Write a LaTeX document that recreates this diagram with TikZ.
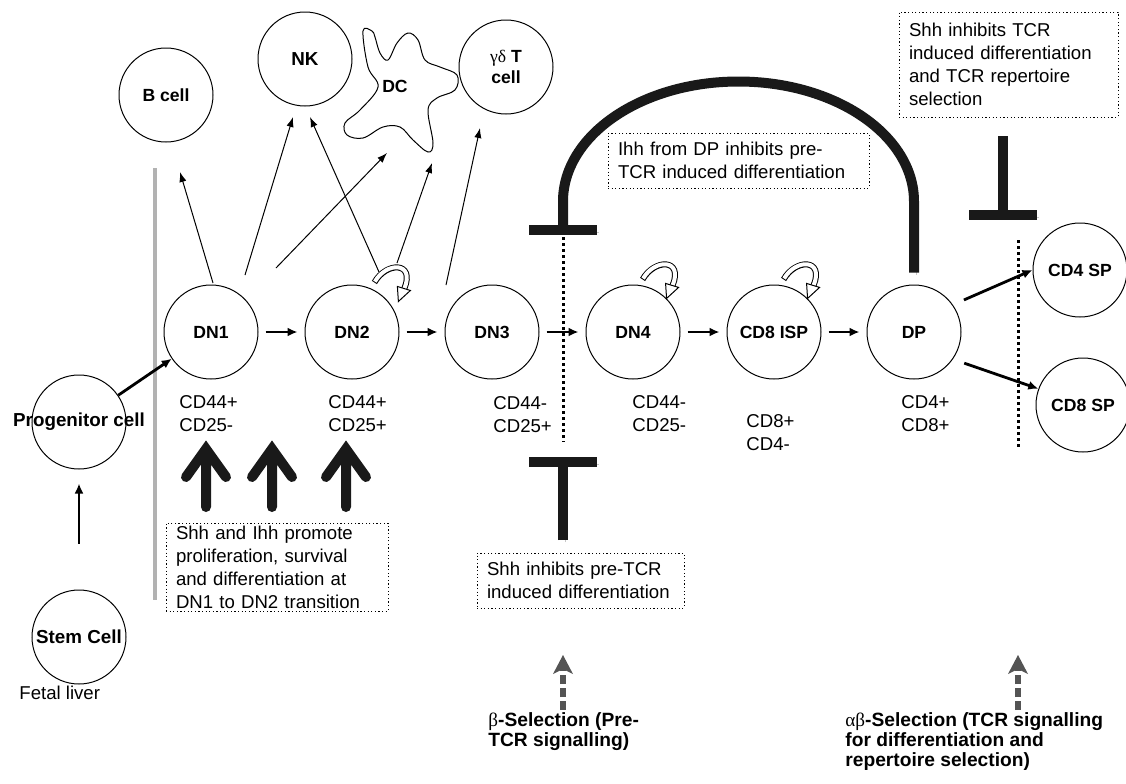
\documentclass[tikz,border=0pt]{standalone}
\usepackage{fontspec}
\setmainfont{Liberation Sans}
\newfontfamily\greekfont{Liberation Serif}
\usetikzlibrary{arrows.meta, positioning}

\newcommand\notesize{\fontsize{9.3pt}{11.5pt}\selectfont}
\newcommand\cellsize{\fontsize{8.8pt}{10.5pt}\selectfont\bfseries}
\newcommand\bigcellsize{\fontsize{9.4pt}{10.5pt}\selectfont\bfseries}
\newcommand\selsize{\fontsize{9.6pt}{10pt}\selectfont\bfseries}
\newcommand\grk[1]{{\greekfont\mdseries #1}}

\tikzset{
  cell/.style={circle, draw, line width=0.5pt, minimum size=47pt, inner sep=0pt, font=\cellsize, align=center},
  flow/.style={-{Latex[length=5pt,width=4.5pt]}, line width=1.4pt},
  thinflow/.style={-{Latex[length=5pt,width=3.6pt]}, line width=0.5pt},
  note/.style={draw, line width=0.5pt, dash pattern=on 0.6pt off 1.2pt, align=left, inner xsep=5pt, inner ysep=0pt, font=\notesize},
  marker/.style={font=\notesize, align=left, anchor=west, inner sep=0pt},
  sellabel/.style={font=\selsize, align=left, anchor=west, inner sep=0pt},
  block/.style={line width=5pt, draw=black!90, preaction={draw=black!22, transform canvas={xshift=1.2pt, yshift=-1.2pt}}},
  boost/.style={line width=5pt, draw=black!90, line cap=round, line join=miter, preaction={draw=black!22, transform canvas={xshift=1.2pt, yshift=-1.2pt}}},
  sepline/.style={line width=1.5pt, dash pattern=on 1.5pt off 1.5pt},
  selarrow/.style={draw=black!67, line width=2.8pt, dash pattern=on 4.5pt off 2pt},
  selhead/.style={fill=black!67},
  selfloop/.pic={
    \draw[line width=3pt] (-24,-19) .. controls (-12,-40) and (17,-40) .. (6,-13);
    \draw[white, line width=2pt, shorten <=0.5pt] (-24,-19) .. controls (-12,-40) and (17,-40) .. (6,-13);
    \filldraw[fill=white, line width=0.5pt] (-1,-15) -- (0,0) -- (12,-11) -- cycle;
  }
}

\begin{document}
\begin{tikzpicture}[x=0.5pt, y=-0.5pt]
\useasboundingbox (0,0) rectangle (1126,783);
\clip (0,0) rectangle (1126,783);

% cells
\node[cell] (dn1) at (211,332) {DN1};
\node[cell] (dn2) at (352,332) {DN2};
\node[cell] (dn3) at (492,332) {DN3};
\node[cell] (dn4) at (633,332) {DN4};
\node[cell] (isp) at (774,332) {CD8 ISP};
\node[cell] (dp) at (914,332) {DP};
\node[cell] (cd4) at (1080,270) {CD4 SP};
\node[cell] (cd8) at (1083,405) {CD8 SP};
\node[cell, label={[font=\bigcellsize]center:Progenitor cell}] (prog) at (79,422) {};
\node[cell, label={[font=\bigcellsize]center:Stem Cell}] (stem) at (79,637) {};
\node[cell] (bcell) at (166,95) {B cell};
\node[cell, font=\bigcellsize] (nk) at (305,59) {NK};
\node[cell] (gdt) at (506,67) {\grk{γδ} T\\cell};

% dendritic cell
\draw[line width=0.5pt] plot[smooth cycle, tension=0.6] coordinates {
  (363,31) (368,67) (378,87) (360,110) (345,123) (347,135) (363,138)
  (383,127) (400,127) (413,140) (428,152) (433,143) (428,110) (437,98)
  (455,90) (457,75) (440,67) (425,60) (418,40) (408,33) (397,43)
  (388,60) (380,53) (375,37) (372,31)};
\node[font=\cellsize] (dc) at (395,86) {DC};

% surface markers
\node[marker] (dn1cd) at (179,413.5) {CD44+\\CD25-};
\node[marker] (dn2cd) at (328,413.5) {CD44+\\CD25+};
\node[marker] (dn3cd) at (493,415) {CD44-\\CD25+};
\node[marker] (dn4cd) at (632,413.5) {CD44-\\CD25-};
\node[marker] (ispcd) at (746,432.5) {CD8+\\CD4-};
\node[marker] (dpcd) at (901,413.5) {CD4+\\CD8+};
\node[marker] (liver) at (19,693) {Fetal liver};

% boundaries
\draw[black!30, line width=2pt] (155,168) -- (155,600);
\draw[sepline] (563,237) -- (563,442);
\draw[sepline] (1018,240) -- (1018,450);

% main line of development
\draw[flow, line width=1pt, shorten <=23pt, shorten >=7pt] (stem) -- (prog);
\draw[flow] (prog) -- (dn1);
\foreach \a/\b in {dn1/dn2, dn2/dn3, dn3/dn4, dn4/isp, isp/dp}
  \draw[flow, shorten <=3.5pt, shorten >=3.5pt] (\a) -- (\b);
\draw[flow, shorten <=6pt] (dp.35) -- (cd4.west);
\draw[flow, shorten <=6pt] (dp.-35) -- (cd8.160);

% other lineages
\coordinate (bFoot) at (213,283);  \coordinate (bTip) at (180,172);
\coordinate (nkFootA) at (245,275); \coordinate (nkTipA) at (293,117);
\coordinate (dcFootA) at (276,268); \coordinate (dcTipA) at (387,153);
\coordinate (nkFootB) at (379,272); \coordinate (nkTipB) at (310,117);
\coordinate (dcFootB) at (397,263); \coordinate (dcTipB) at (432,163);
\coordinate (gdFoot) at (446,285);  \coordinate (gdTip) at (480,128);
\foreach \a/\b in {bFoot/bTip, nkFootA/nkTipA, dcFootA/dcTipA, nkFootB/nkTipB, dcFootB/dcTipB, gdFoot/gdTip}
  \draw[thinflow] (\a) -- (\b);

% self renewal
\pic at ([xshift=5pt]dn2.40) {selfloop};
\pic at (dn4.45) {selfloop};
\pic at (isp.45) {selfloop};

% hedgehog signals
\foreach \x in {206,272,346}
  \draw[boost] (\x,507) -- (\x,449) (\x-20,477) -- (\x,449) -- (\x+20,477);
\node[note, text width=101pt, minimum height=44pt] (promote) at (277,567)
  {Shh and Ihh promote\\proliferation, survival\\and differentiation at\\DN1 to DN2 transition};

\draw[block] ([yshift=6pt]dp.north) -- ++(0,-71)
  arc[start angle=0, end angle=180, x radius=87.75pt, y radius=60pt] -- ++(0,28) coordinate (ihhBar);
\draw[block] ([xshift=-17pt]ihhBar) -- ([xshift=17pt]ihhBar);
\node[note, text width=120.5pt, minimum height=27.5pt] (ihh) at (738.5,160.5)
  {Ihh from DP inhibits pre-\\TCR induced differentiation};

\coordinate (preFoot) at (563,540); \coordinate (preBar) at (563,462);
\draw[block] (preFoot) -- (preBar);
\draw[block] ([xshift=-17pt]preBar) -- ([xshift=17pt]preBar);
\node[note, text width=93.5pt, minimum height=27.5pt] (shhpre) at (580.5,580.5)
  {Shh inhibits pre-TCR\\induced differentiation};

\coordinate (tcrTop) at (1003,136); \coordinate (tcrBar) at (1003,215);
\draw[block] (tcrTop) -- (tcrBar);
\draw[block] ([xshift=-17pt]tcrBar) -- ([xshift=17pt]tcrBar);
\node[note, text width=99.5pt, minimum height=52.5pt] (shhtcr) at (1008.5,64.5)
  {Shh inhibits TCR\\induced differentiation\\and TCR repertoire\\selection};

% selection checkpoints
\coordinate (betaFoot) at (563,710); \coordinate (betaTip) at (563,655);
\coordinate (abFoot) at (1018,710);  \coordinate (abTip) at (1018,655);
\foreach \f/\t in {betaFoot/betaTip, abFoot/abTip} {
  \draw[selarrow] (\f) -- ([yshift=-6pt]\t);
  \fill[selhead] (\t) -- ++(-10,19) -- ++(10,-5) -- ++(10,5) -- cycle;
}
\node[sellabel] (beta) at (488,732) {\grk{β}-Selection (Pre-\\TCR signalling)};
\node[sellabel] (ab) at (845,742) {\grk{αβ}-Selection (TCR signalling\\for differentiation and\\repertoire selection)};
\end{tikzpicture}
\end{document}
